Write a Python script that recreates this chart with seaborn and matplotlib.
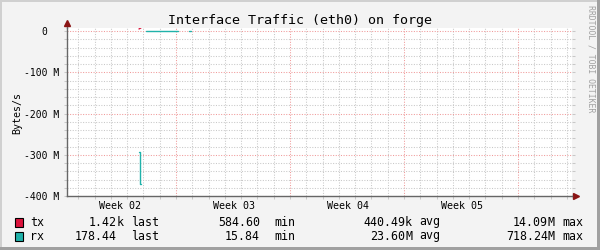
import numpy as np
import pandas as pd
import seaborn as sns
import matplotlib
matplotlib.use("Agg")
import matplotlib.pyplot as plt
from matplotlib.patches import Rectangle
from matplotlib.lines import Line2D
from matplotlib.ticker import MultipleLocator, FixedLocator, FixedFormatter

# ---------------- data (days since graph start, values in MBytes/s) ----------------
tx_days = [4.42, 4.54]
tx_vals = [5.0, 7.5]
rx_spike_days = [4.42, 4.48, 4.48, 4.54]
rx_spike_vals = [-294.0, -294.0, -371.0, -371.0]
rx_flat_days = [4.85, 6.81]
rx_flat_vals = [-0.6, -0.6]
rx_dash_days = [7.49, 7.62]
rx_dash_vals = [-0.6, -0.6]

series_names = ["tx", "rx"]
series_colors = ["#DC143C", "#20B2AA"]
stat_names = ["last", "min", "avg", "max"]
tx_stats = ["1.42k", "584.60 ", "440.49k", "14.09M"]
rx_stats = ["178.44 ", "15.84 ", "23.60M", "718.24M"]

y_tick_values = [-400, -300, -200, -100, 0]
y_tick_labels = ["-400 M", "-300 M", "-200 M", "-100 M", "0  "]
week_labels = ["Week 02", "Week 03", "Week 04", "Week 05"]

title = "Interface Traffic (eth0) on forge"
ylabel = "Bytes/s"
watermark = "RRDTOOL / TOBI OETIKER"

# ---------------- build table ----------------
rows = []
for d, v in zip(tx_days, tx_vals):
    rows.append(("tx", "tx0", d, v))
for seg, (ds, vs) in enumerate([(rx_spike_days, rx_spike_vals),
                                (rx_flat_days, rx_flat_vals),
                                (rx_dash_days, rx_dash_vals)]):
    for d, v in zip(ds, vs):
        rows.append(("rx", f"rx{seg}", d, v))
df = pd.DataFrame(rows, columns=["series", "segment", "day", "value"])

# ---------------- figure ----------------
sns.set_theme(style="white")
plt.rcParams["font.family"] = ["DejaVu Sans Mono", "DejaVu Sans"]

W, H = 600, 250
fig = plt.figure(figsize=(6, 2.5), dpi=100, facecolor="#F3F3F3")

def fx(x):
    return x / W

def fy(y):
    return 1 - y / H

x0, x1, ytop, ybot = 67, 572, 28, 196
ax = fig.add_axes([fx(x0), fy(ybot), fx(x1) - fx(x0), (ybot - ytop) / H])
ax.set_facecolor("white")

sns.lineplot(data=df, x="day", y="value", hue="series", units="segment",
             estimator=None, sort=False, legend=False, ax=ax,
             palette=dict(zip(series_names, series_colors)), linewidth=1.0)

ax.set_xlim(0, 31)
ax.set_ylim(-400, 7.3)

first_week = 6.69
week_bounds = [first_week + 7 * k for k in range(4)]
day_lines = [first_week + k for k in range(-7, 25)]
ax.xaxis.set_major_locator(FixedLocator(week_bounds))
ax.xaxis.set_minor_locator(FixedLocator([d for d in day_lines if 0 < d < 31]))
ax.set_xticklabels([])
ax.yaxis.set_major_locator(FixedLocator(y_tick_values))
ax.yaxis.set_major_formatter(FixedFormatter(y_tick_labels))
ax.yaxis.set_minor_locator(MultipleLocator(20))

ax.set_axisbelow(True)
ax.grid(which="minor", color="#C8C8C8", linestyle=(0, (1, 1.5)), linewidth=0.75)
ax.grid(which="major", color="#F09A9A", linestyle=(0, (1, 1.5)), linewidth=0.75)

ax.tick_params(axis="both", which="both", direction="out", length=2,
               width=0.75, colors="#C8C8C8", labelcolor="black")
ax.tick_params(axis="y", which="both", right=True, left=True)
ax.tick_params(axis="x", which="both", bottom=True)
ax.tick_params(axis="y", which="major", labelsize=7, pad=3.5)
ax.set_xlabel("")
ax.set_ylabel("")

for s in ["top", "right"]:
    ax.spines[s].set_visible(False)
for s in ["left", "bottom"]:
    ax.spines[s].set_color("#666666")
    ax.spines[s].set_linewidth(1.0)

# axis extensions and arrows
arrow_col = "#8B1515"
ax.add_line(Line2D([0, 0], [1, 1 + 4 / (ybot - ytop)], transform=ax.transAxes,
                   color="#666666", lw=1.0, clip_on=False))
ax.add_line(Line2D([1, 1 + 3 / (x1 - x0)], [0, 0], transform=ax.transAxes,
                   color="#666666", lw=1.0, clip_on=False))
ax.plot([0], [1 + 5 / (ybot - ytop)], marker="^", color=arrow_col, markersize=4.5,
        transform=ax.transAxes, clip_on=False)
ax.plot([1 + 4 / (x1 - x0)], [0], marker=">", color=arrow_col, markersize=4.5,
        transform=ax.transAxes, clip_on=False)

# week labels
for k, lab in enumerate(week_labels):
    ax.text(week_bounds[k] - 3.45, -10 / (ybot - ytop), lab,
            transform=ax.get_xaxis_transform(), ha="center", va="center",
            fontsize=7.2, color="black")

# title / labels
fig.text(fx(300), fy(24), title, ha="center", va="baseline", fontsize=9.6, color="black")
fig.text(fx(17), fy(113), ylabel, ha="center", va="center", rotation=90,
         fontsize=7.2, color="black")
fig.text(fx(591), fy(5), watermark, ha="center", va="top", rotation=270,
         fontsize=5.9, color="#A0A0A0")

# legend rows
row_y = [222, 236]
num_end = [117, 260, 405, 548]
for r, (name, col, stats) in enumerate(zip(series_names, series_colors, [tx_stats, rx_stats])):
    y = row_y[r]
    fig.patches.append(Rectangle((fx(15), fy(y + 4.5)), 8 / W, 9 / H, transform=fig.transFigure,
                                 facecolor=col, edgecolor="black", linewidth=0.8))
    fig.text(fx(30), fy(y), name, ha="left", va="center", fontsize=8.4, color="black")
    for c, (st, lbl) in enumerate(zip(stats, stat_names)):
        num, unit = st[:-1] if not st[-1].isdigit() else st, st[-1] if not st[-1].isdigit() else ""
        fig.text(fx(num_end[c]), fy(y), num, ha="right", va="center", fontsize=8.4, color="black")
        if unit.strip():
            fig.text(fx(num_end[c]), fy(y), unit, ha="left", va="center", fontsize=8.4, color="black")
        fig.text(fx(num_end[c] + 14), fy(y), lbl, ha="left", va="center", fontsize=8.4, color="black")

# frame
fig.patches.append(Rectangle((0, fy(2)), 1, 2 / H, transform=fig.transFigure,
                             facecolor="#D0D0D0", edgecolor="none"))
fig.patches.append(Rectangle((0, 0), 2 / W, 1, transform=fig.transFigure,
                             facecolor="#D0D0D0", edgecolor="none"))
fig.patches.append(Rectangle((0, 0), 1, 3 / H, transform=fig.transFigure,
                             facecolor="#A0A0A0", edgecolor="none"))
fig.patches.append(Rectangle((fx(597), 0), 3 / W, 1, transform=fig.transFigure,
                             facecolor="#A0A0A0", edgecolor="none"))

fig.savefig("out.png", dpi=100, facecolor=fig.get_facecolor())
